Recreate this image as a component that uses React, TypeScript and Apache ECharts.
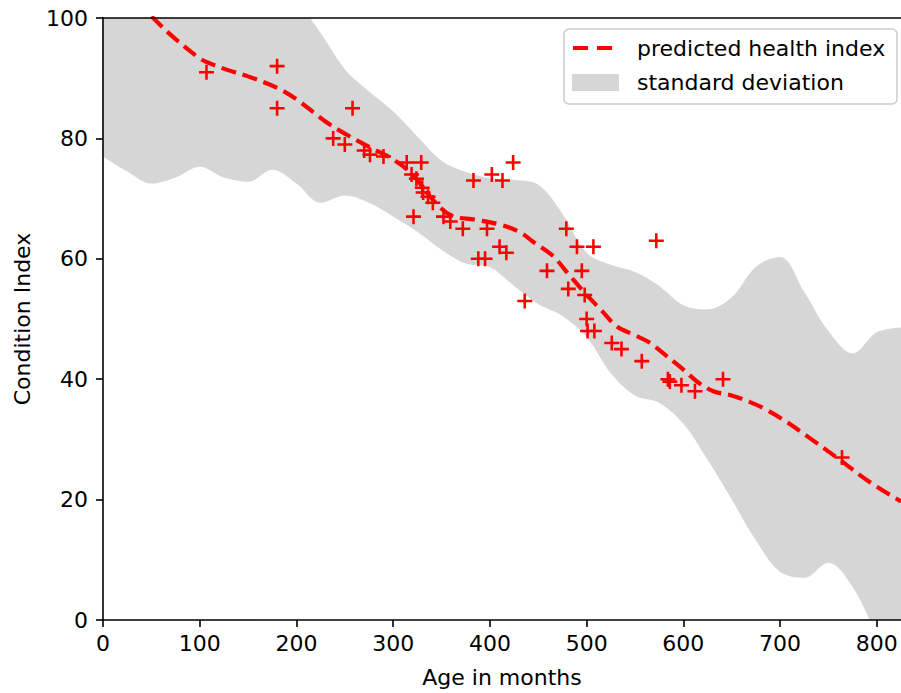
import React, { useEffect, useRef } from "react";
import * as echarts from "echarts";

// predicted health index (mean)
const meanX = [35, 50, 75, 100, 110, 130, 150, 180, 200, 230, 250, 275, 300, 320, 340, 360, 385, 410, 430, 445, 465, 480, 500, 515, 531, 550, 565, 580, 600, 615, 631, 650, 669, 685, 703, 730, 761, 790, 825];
const meanY = [103, 100.3, 96.5, 93.3, 92.5, 91.3, 90.3, 88.4, 86.5, 82.8, 80.8, 78.6, 76.5, 74, 70, 67.2, 66.5, 65.7, 64.5, 62.8, 60.5, 57.7, 54, 51.5, 48.8, 47.3, 46.1, 44.2, 41.6, 39.5, 38, 37.3, 36.2, 35, 33.3, 30.3, 26.7, 23.2, 19.7];

// standard deviation band
const bandX = [0, 25, 50, 75, 100, 125, 150, 175, 200, 225, 250, 275, 300, 325, 350, 375, 400, 425, 450, 475, 500, 525, 550, 575, 600, 625, 650, 675, 700, 725, 750, 775, 800, 825];
const bandUpper = [128, 126, 124, 122, 119, 115, 111, 107, 103, 97.5, 91.5, 87.8, 84.5, 80.3, 76.3, 74.4, 73.4, 73.1, 72.3, 67.5, 61, 59, 57.8, 55.5, 52.3, 51.6, 53.6, 58.7, 60.3, 54.5, 48, 44.3, 47.8, 48.6];
const bandLower = [77, 74.5, 72.5, 73.5, 75.3, 73.5, 72.8, 74.8, 72.5, 69.3, 70.5, 69.3, 67, 64.5, 61.5, 59.2, 58.6, 55.5, 52.5, 50.5, 47, 41, 37.3, 36.1, 32.6, 26.6, 20, 13.2, 8, 7, 9.5, 5.5, -2.5, -10];

// observations
const obsX = [107, 180, 180, 258, 238, 250, 270, 276, 290, 314, 329, 319, 324, 330, 331, 336, 341, 321, 352, 359, 372, 383, 397, 402, 413, 424, 410, 417, 388, 395, 436, 479, 490, 507, 459, 495, 481, 498, 500, 501, 508, 572, 526, 536, 557, 584, 586, 598, 612, 641, 764];
const obsY = [91, 92, 85, 85, 80, 79, 78, 77.3, 77, 76, 76, 74, 73.3, 71.8, 71, 70.3, 69.3, 67, 67, 66.2, 65, 73, 65, 74, 73, 76, 62, 61, 60, 60, 53, 65, 62, 62, 58, 58, 55, 54, 50, 48, 48, 63, 46, 45, 43, 40, 39.6, 39, 38, 40, 27];

const xTicks = [0, 100, 200, 300, 400, 500, 600, 700, 800];
const yTicks = [0, 20, 40, 60, 80, 100];

const FONT = "DejaVu Sans";
const BAND = "#d6d6d6";

export default function App() {
  const ref = useRef<HTMLDivElement>(null);
  useEffect(() => {
    if (!ref.current) return;
    const chart = echarts.init(ref.current, null, { renderer: "svg" });
    const axisColor = "#000";
    const option = {
      animation: false,
      grid: { left: 103, right: 0, top: 18, bottom: 72, containLabel: false },
      xAxis: [
        {
          type: "value",
          min: 0,
          max: 825,
          interval: 100,
          name: "Age in months",
          nameLocation: "middle",
          nameGap: 46,
          nameTextStyle: { fontFamily: FONT, fontSize: 22, color: "#000" },
          axisLine: { show: true, onZero: false, lineStyle: { color: axisColor, width: 1.6 } },
          axisTick: { show: true, length: 7, lineStyle: { color: axisColor, width: 1.6 } },
          axisLabel: {
            margin: 12,
            fontFamily: FONT,
            fontSize: 22,
            color: "#000",
            showMaxLabel: false,
            formatter: (v: number) => (xTicks.includes(v) ? String(v) : ""),
          },
          splitLine: { show: false },
          z: 5,
        },
        {
          type: "value",
          position: "top",
          min: 0,
          max: 825,
          axisLine: { show: true, onZero: false, lineStyle: { color: axisColor, width: 1.6 } },
          axisTick: { show: false },
          axisLabel: { show: false },
          splitLine: { show: false },
          z: 5,
        },
      ],
      yAxis: {
        type: "value",
        min: 0,
        max: 100,
        interval: 20,
        name: "Condition Index",
        nameLocation: "middle",
        nameGap: 70,
        nameTextStyle: { fontFamily: FONT, fontSize: 22, color: "#000" },
        axisLine: { show: true, onZero: false, lineStyle: { color: axisColor, width: 1.6 } },
        axisTick: { show: true, length: 7, lineStyle: { color: axisColor, width: 1.6 } },
        axisLabel: {
          margin: 15,
          fontFamily: FONT,
          fontSize: 22,
          color: "#000",
          formatter: (v: number) => (yTicks.includes(v) ? String(v) : ""),
        },
        splitLine: { show: false },
        z: 5,
      },
      series: [
        {
          name: "standard deviation",
          type: "line",
          data: bandX.map((x, i) => [x, bandUpper[i]]),
          symbol: "none",
          smooth: 0.35,
          lineStyle: { width: 0, opacity: 0 },
          areaStyle: { color: BAND, opacity: 1, origin: "start" },
          silent: true,
          z: 1,
        },
        {
          name: "band lower edge",
          type: "line",
          data: bandX.map((x, i) => [x, bandLower[i]]),
          symbol: "none",
          smooth: 0.35,
          lineStyle: { width: 0, opacity: 0 },
          areaStyle: { color: "#ffffff", opacity: 1, origin: "start" },
          silent: true,
          z: 1.5,
        },
        {
          name: "predicted health index",
          type: "line",
          data: meanX.map((x, i) => [x, meanY[i]]),
          symbol: "none",
          smooth: 0.35,
          lineStyle: { color: "#ff0000", width: 4.2, type: [15, 7] },
          z: 3,
        },
        {
          name: "observations",
          type: "scatter",
          data: obsX.map((x, i) => [x, obsY[i]]),
          symbol: "path://M-1.2,-7H1.2V-1.2H7V1.2H1.2V7H-1.2V1.2H-7V-1.2H-1.2Z",
          symbolSize: 15,
          itemStyle: { color: "#ff0000", opacity: 1 },
          z: 4,
        },
      ],
      graphic: [
        {
          type: "rect",
          shape: { x: 564, y: 29, width: 333, height: 75, r: 5 },
          style: { fill: "rgba(255,255,255,0.8)", stroke: "#cccccc", lineWidth: 1.5 },
          z: 10,
        },
        {
          type: "line",
          shape: { x1: 573, y1: 48, x2: 613, y2: 48 },
          style: { stroke: "#ff0000", lineWidth: 4.2, lineDash: [15, 9] },
          z: 11,
        },
        {
          type: "rect",
          shape: { x: 572, y: 74, width: 47, height: 17 },
          style: { fill: BAND },
          z: 11,
        },
        {
          type: "text",
          x: 637,
          y: 48,
          style: { text: "predicted health index", fontFamily: FONT, fontSize: 22, fill: "#000", verticalAlign: "middle" },
          z: 11,
        },
        {
          type: "text",
          x: 637,
          y: 82,
          style: { text: "standard deviation", fontFamily: FONT, fontSize: 22, fill: "#000", verticalAlign: "middle" },
          z: 11,
        },
      ],
    };
    chart.setOption(option as any);
    return () => chart.dispose();
  }, []);
  return <div ref={ref} style={{ position: "absolute", left: 0, top: 0, width: 901, height: 693 }} />;
}
